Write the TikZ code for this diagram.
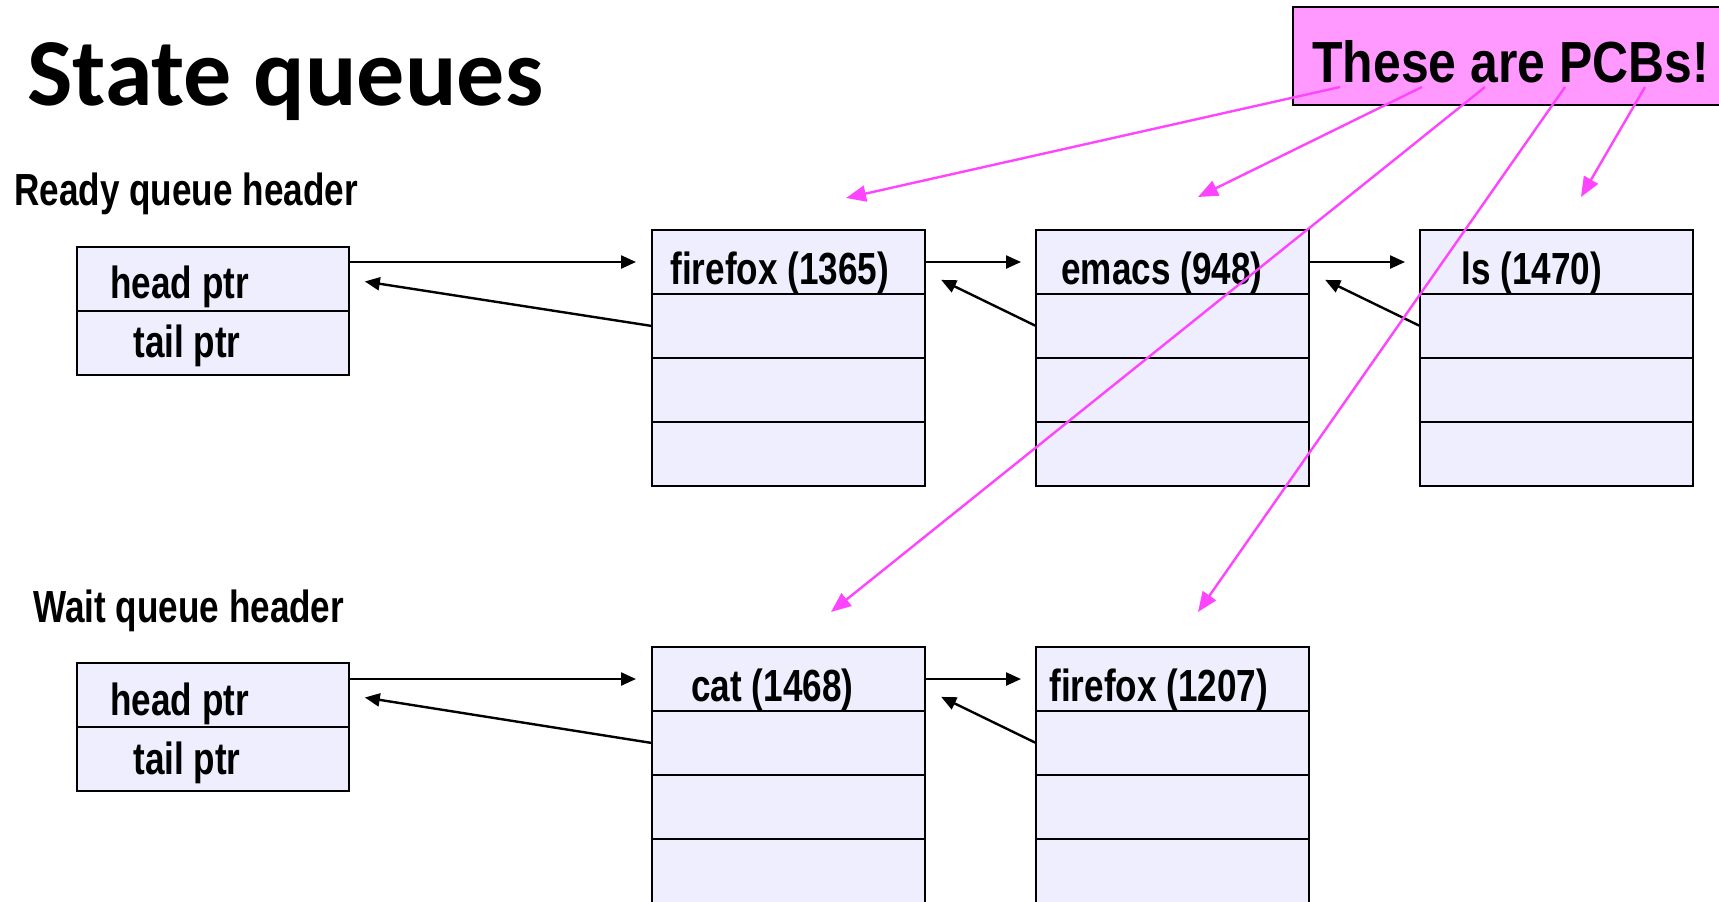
\documentclass[tikz,border=0pt]{standalone}
\usepackage{fontspec}
\newfontfamily\titlefont{Carlito}
\newfontfamily\narrowfont{Liberation Sans}[FakeStretch=0.78]
\newfontfamily\pcbfont{Liberation Sans}[FakeStretch=0.86]
\usetikzlibrary{arrows.meta,calc}
\definecolor{cellfill}{HTML}{EEEEFF}
\definecolor{notefill}{HTML}{FF99FF}
\definecolor{noteline}{HTML}{FF44FF}

\begin{document}
\begin{tikzpicture}[x=0.5pt,y=-0.5pt,
  cell/.style={draw=black, line width=1.4pt, fill=cellfill,
    minimum width=136.5pt, minimum height=32pt, inner sep=0pt,
    outer sep=0pt, anchor=north west},
  hdrcell/.style={cell, minimum width=136pt},
  txt/.style={font=\narrowfont\bfseries\fontsize{22.5}{27}\selectfont,
    inner sep=0pt, anchor=base west},
  heading/.style={txt},
  ptr/.style={line width=1.2pt, -{Triangle[length=7.5pt,width=6.5pt]}},
  pcbptr/.style={draw=noteline, line width=1.2pt,
    -{Triangle[length=10pt,width=8pt]}},
]
\useasboundingbox (0,0) rectangle (1719,901);

% title
\node[inner sep=0pt, anchor=base west,
  font=\titlefont\bfseries\fontsize{48}{56}\selectfont] (title) at (27,105) {State queues};

% ---------- ready queue ----------
\node[heading] (readylbl) at (14,205) {Ready queue header};
\node[hdrcell] (rh1) at (77,247) {};
\node[hdrcell] (rh2) at (77,311) {};
\node[txt] (rhtxt1) at (110,298) {head ptr};
\node[txt] (rhtxt2) at (133,357) {tail ptr};

% firefox (1365)
\node[cell] (ff1) at (652,230) {};
\node[cell] (ff2) at (652,294) {};
\node[cell] (ff3) at (652,358) {};
\node[cell] (ff4) at (652,422) {};
\node[txt] (fftxt) at (670,284) {firefox (1365)};

% emacs (948)
\node[cell] (em1) at (1036,230) {};
\node[cell] (em2) at (1036,294) {};
\node[cell] (em3) at (1036,358) {};
\node[cell] (em4) at (1036,422) {};
\node[txt] (emtxt) at (1061,284) {emacs (948)};

% ls (1470)
\node[cell] (ls1) at (1420,230) {};
\node[cell] (ls2) at (1420,294) {};
\node[cell] (ls3) at (1420,358) {};
\node[cell] (ls4) at (1420,422) {};
\node[txt] (lstxt) at (1461,284) {ls (1470)};

% ready queue links
\draw[ptr, shorten >=8pt] (rh1.east |- ff1.west) -- (ff1.west);
\draw[ptr, shorten >=8pt] (ff2.west) -- (rh1.east);
\draw[ptr, shorten >=7.5pt] (ff1.east) -- (em1.west);
\draw[ptr, shorten >=9pt] (em2.west) -- ($(ff1.east)+(0,10)$);
\draw[ptr, shorten >=7.5pt] (em1.east) -- (ls1.west);
\draw[ptr, shorten >=9pt] (ls2.west) -- ($(em1.east)+(0,10)$);

% ---------- wait queue ----------
\node[heading] (waitlbl) at (33,622) {Wait queue header};
\node[hdrcell] (wh1) at (77,663) {};
\node[hdrcell] (wh2) at (77,727) {};
\node[txt] (whtxt1) at (110,715) {head ptr};
\node[txt] (whtxt2) at (133,774) {tail ptr};

% cat (1468)
\node[cell] (ct1) at (652,647) {};
\node[cell] (ct2) at (652,711) {};
\node[cell] (ct3) at (652,775) {};
\node[cell] (ct4) at (652,839) {};
\node[txt] (cttxt) at (691,701) {cat (1468)};

% firefox (1207)
\node[cell] (fw1) at (1036,647) {};
\node[cell] (fw2) at (1036,711) {};
\node[cell] (fw3) at (1036,775) {};
\node[cell] (fw4) at (1036,839) {};
\node[txt] (fwtxt) at (1049,701) {firefox (1207)};

% wait queue links
\draw[ptr, shorten >=8pt] (wh1.east |- ct1.west) -- (ct1.west);
\draw[ptr, shorten >=8pt] (ct2.west) -- (wh1.east);
\draw[ptr, shorten >=7.5pt] (ct1.east) -- (fw1.west);
\draw[ptr, shorten >=9pt] (fw2.west) -- ($(ct1.east)+(0,10)$);

% ---------- PCB note ----------
\node[draw=black, line width=1.1pt, fill=notefill, inner sep=0pt,
  minimum width=216pt, minimum height=49pt, anchor=north west] (note) at (1292,6) {};
\node[inner sep=0pt, anchor=base west,
  font=\pcbfont\bfseries\fontsize{29}{34}\selectfont] (notetxt) at (1312,82) {These are PCBs!};

\coordinate (p1) at (1340,87);
\coordinate (p2) at (1422,87);
\coordinate (p3) at (1485,87);
\coordinate (p4) at (1565,87);
\coordinate (p5) at (1645,87);
\coordinate (t1) at (846,198);
\coordinate (t2) at (1198,197);
\coordinate (t3) at (831,612);
\coordinate (t4) at (1198,612);
\coordinate (t5) at (1581,197);

\draw[pcbptr] (p1) -- (t1);
\draw[pcbptr] (p2) -- (t2);
\draw[pcbptr] (p3) -- (t3);
\draw[pcbptr] (p4) -- (t4);
\draw[pcbptr] (p5) -- (t5);
\end{tikzpicture}
\end{document}
